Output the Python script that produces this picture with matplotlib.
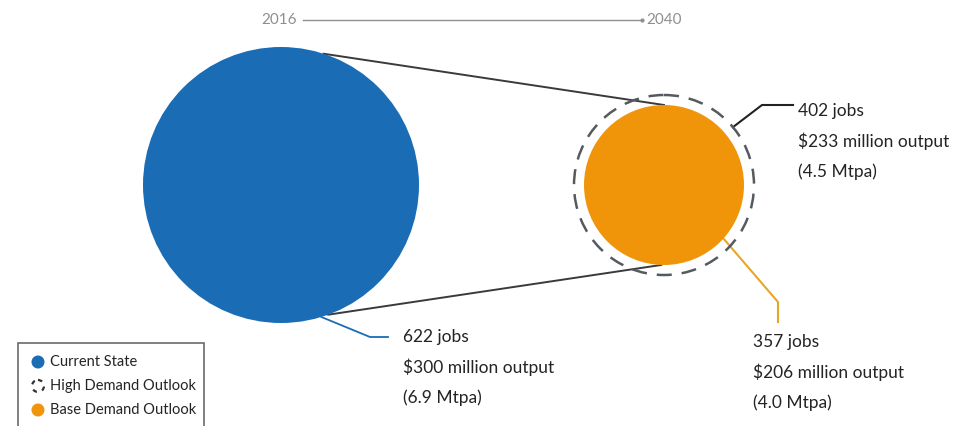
import numpy as np
import matplotlib.pyplot as plt
import matplotlib.patches as patches

# Scenario values
scenarios = ["Current State", "High Demand Outlook", "Base Demand Outlook"]
jobs = [622, 402, 357]
output_musd = [300, 233, 206]
mtpa = [6.9, 4.5, 4.0]
years = ["2016", "2040"]

BLUE = "#1a6db5"
ORANGE = "#f0940a"
TEXT = "#242424"
GREY = "#8f8f8f"

plt.rcParams['font.family'] = ['Lato', 'DejaVu Sans']

fig = plt.figure(figsize=(9.57, 4.26), dpi=100)
ax = fig.add_axes([0, 0, 1, 1])
ax.set_xlim(0, 957)
ax.set_ylim(426, 0)
ax.set_aspect('equal')
ax.axis('off')

# radius grows linearly with throughput
scale = 20.0
r_now, r_high, r_base = [m * scale for m in mtpa]
c_now = (281, 185)
c_new = (664, 185)

ax.add_patch(patches.Circle(c_now, r_now, facecolor=BLUE, edgecolor='none', zorder=2))
ax.add_patch(patches.Circle(c_new, r_base, facecolor=ORANGE, edgecolor='none', zorder=2))
ax.add_patch(patches.Circle(c_new, r_high, facecolor='none', edgecolor='#555a60',
                            linestyle=(0, (6, 4)), linewidth=1.8, zorder=3))

def on_circle(c, r, deg):
    a = np.radians(deg)
    return c[0] + r * np.cos(a), c[1] - r * np.sin(a)

# connector lines between the two circles
p1 = on_circle(c_now, r_now, 72)
p2 = on_circle(c_new, r_base, 90)
ax.plot([p1[0], p2[0]], [p1[1], p2[1]], color='#3a3a3a', lw=1.4, zorder=1)
p3 = on_circle(c_now, r_now, -70)
p4 = on_circle(c_new, r_base, -92)
ax.plot([p3[0], p4[0]], [p3[1], p4[1]], color='#3a3a3a', lw=1.4, zorder=1)

# year axis at top
ax.text(297, 20, years[0], ha='right', va='center', fontsize=11, color=GREY)
ax.plot([303, 642], [20, 20], color=GREY, lw=1)
ax.plot([642], [20], marker='o', ms=2, color=GREY)
ax.text(646, 20, years[1], ha='left', va='center', fontsize=11, color=GREY)

def label(x, y, i):
    lines = [f"{jobs[i]} jobs",
             f"${output_musd[i]} million output",
             f"({mtpa[i]:.1f} Mtpa)"]
    for k, s in enumerate(lines):
        ax.text(x, y + 30.5 * k, s, ha='left', va='center', fontsize=12.5, color=TEXT)

# leaders and labels
q = on_circle(c_now, r_now, -73)
ax.plot([q[0], 370, 388], [q[1], 337, 337], color=BLUE, lw=1.3, zorder=1)
label(403, 337, 0)

q = on_circle(c_new, r_high, 40)
ax.plot([q[0], 762, 793], [q[1], 105, 105], color='#222222', lw=1.5)
label(798, 111, 1)

q = on_circle(c_new, r_base, -42)
ax.plot([q[0], 778, 778], [q[1], 302, 322], color='#e8a628', lw=1.5, zorder=1)
label(753, 342, 2)

# legend box
ax.add_patch(patches.Rectangle((18, 343), 186, 120, facecolor='white',
                               edgecolor='#6b6b6b', lw=1.2, zorder=4))
ys = [362, 386, 410]
ax.add_patch(patches.Circle((38, ys[0]), 6.5, facecolor=BLUE, edgecolor='none', zorder=5))
ax.add_patch(patches.Circle((38, ys[1]), 6, facecolor='none', edgecolor='#333333',
                            linestyle=(0, (2, 2.5)), lw=1.6, zorder=5))
ax.add_patch(patches.Circle((38, ys[2]), 6.5, facecolor=ORANGE, edgecolor='none', zorder=5))
for y, name in zip(ys, scenarios):
    ax.text(50, y, name, ha='left', va='center', fontsize=10.5, color=TEXT, zorder=5)

fig.savefig("out.png", dpi=100)
